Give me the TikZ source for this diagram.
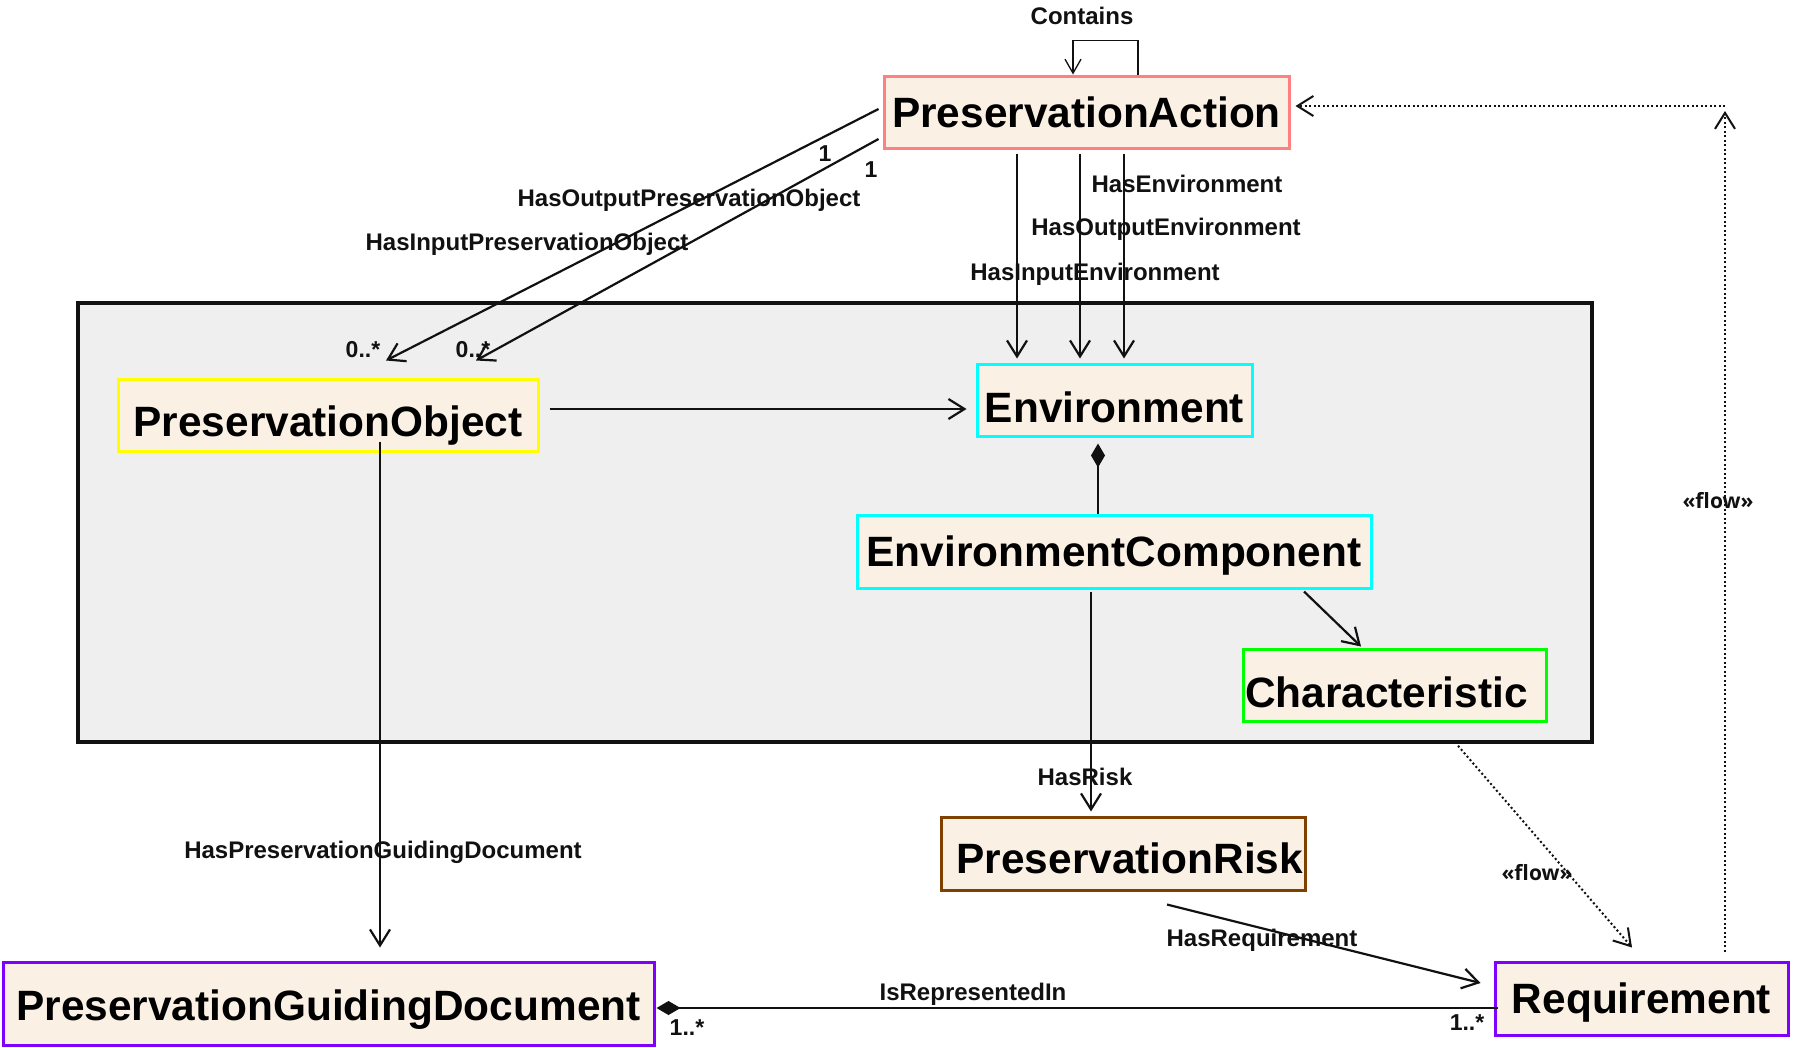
\documentclass[tikz,border=0pt]{standalone}
\usepackage{fontspec}
\setmainfont{Liberation Sans}
\newfontfamily\flowfont{Open Sans}
\usetikzlibrary{arrows.meta}
\definecolor{boxfill}{RGB}{251,240,228}
\definecolor{pkggray}{RGB}{239,239,239}
\definecolor{salmonred}{RGB}{255,128,128}
\definecolor{yel}{RGB}{255,255,0}
\definecolor{cyn}{RGB}{0,255,255}
\definecolor{grn}{RGB}{0,255,0}
\definecolor{brn}{RGB}{128,64,0}
\definecolor{vio}{RGB}{128,0,255}
\definecolor{ink}{RGB}{17,17,17}
\newcommand{\lowered}[2]{\raisebox{-#1pt}{#2}}
\begin{document}
\begin{tikzpicture}[x=1pt,y=-1pt,
  cls/.style={draw, line width=3pt, fill=boxfill, inner sep=0pt, text=black,
    text height=30.4pt, text depth=0pt,
    font=\bfseries\fontsize{42.4}{48}\selectfont},
  lbl/.style={font=\bfseries\fontsize{24}{28}\selectfont, inner sep=0pt, text=ink, yshift=-2.5pt},
  mult/.style={font=\bfseries\fontsize{23}{26}\selectfont, inner sep=0pt, text=ink},
  flowlbl/.style={font=\flowfont\bfseries\fontsize{21}{24}\selectfont, inner sep=0pt, text=ink},
  conn/.style={line width=2.2pt, draw=ink},
  openarr/.style={-{Straight Barb[length=16pt,width=20pt]}},
  flowline/.style={line width=2pt, draw=ink, dash pattern=on 2pt off 2.5pt}]
\useasboundingbox (0,0) rectangle (1801,1047);
\fill[white] (0,0) rectangle (1801,1047);

% package
\node[draw=ink, line width=3.5pt, fill=pkggray, minimum width=1514pt, minimum height=439pt, inner sep=0pt] (pkg) at (835,522.5) {};

% classes
\node[cls, draw=salmonred, minimum width=405pt, minimum height=72pt] (PA) at (1086.5,112) {PreservationAction};
\node[cls, draw=yel, minimum width=420pt, minimum height=72pt] (PO) at (328,415) {\lowered{6}{PreservationObject}};
\node[cls, draw=cyn, minimum width=275pt, minimum height=72pt] (Env) at (1114.5,400) {\lowered{7}{Environment}};
\node[cls, draw=cyn, minimum width=514pt, minimum height=73pt] (EC) at (1114,551.5) {EnvironmentComponent};
\node[cls, draw=grn, minimum height=72pt, text width=299pt, inner xsep=2pt, align=left] (Char) at (1394.5,685) {\lowered{7}{Characteristic}};
\node[cls, draw=brn, minimum height=73pt, text width=360pt, inner xsep=2pt, align=right] (Risk) at (1123,853.5) {\lowered{4.5}{PreservationRisk}};
\node[cls, draw=vio, minimum width=293pt, minimum height=73pt] (Req) at (1641.5,998.5) {Requirement};
\node[cls, draw=vio, minimum width=651pt, minimum height=83pt] (PGD) at (328.5,1003.5) {\lowered{1.5}{PreservationGuidingDocument}};

% Contains self loop
\draw[line width=1.3pt, draw=ink, -{Straight Barb[length=14pt,width=16pt]}]
  ([xshift=51.5pt]PA.north) -- ++(0,-34) -| ([xshift=-13.5pt]PA.north);
\node[lbl] (lContains) at (1082,13.5) {Contains};

% PA -> PO
\draw[conn, openarr] ([xshift=-4pt,yshift=3pt]PA.west) -- ([xshift=58pt,yshift=17pt]PO.north);
\draw[conn, openarr] ([xshift=-4pt,yshift=-27pt]PA.west) -- ([xshift=148pt,yshift=17pt]PO.north);
\node[lbl] (lOut) at (689,198) {HasOutputPreservationObject};
\node[lbl] (lIn) at (527,242) {HasInputPreservationObject};
\node[mult] (m1a) at (825,154) {1};
\node[mult] (m1b) at (871,170) {1};
\node[mult] (m0a) at (363,350) {0..*};
\node[mult] (m0b) at (473,350) {0..*};

% PA -> Environment
\draw[conn, openarr] ([xshift=-69.5pt,yshift=-4pt]PA.south) -- ([xshift=-97.5pt,yshift=4pt]Env.north);
\draw[conn, openarr] ([xshift=-6.5pt,yshift=-4pt]PA.south) -- ([xshift=-34.5pt,yshift=4pt]Env.north);
\draw[conn, openarr] ([xshift=37.5pt,yshift=-4pt]PA.south) -- ([xshift=9.5pt,yshift=4pt]Env.north);
\node[lbl] (lEnv) at (1187,181) {HasEnvironment};
\node[lbl] (lOutEnv) at (1166,227) {HasOutputEnvironment};
\node[lbl] (lInEnv) at (1095,272) {HasInputEnvironment};

% PO -> Environment
\draw[conn, openarr] ([xshift=10pt,yshift=6pt]PO.east) -- ([xshift=-9pt,yshift=-9pt]Env.west);

% Environment <>- EnvironmentComponent
\draw[conn, {Diamond[length=24pt,width=14pt]}-] ([xshift=-16.5pt,yshift=-6pt]Env.south) -- ([xshift=-16pt]EC.north);

% EC -> Characteristic
\draw[conn, openarr] ([xshift=190pt,yshift=-2pt]EC.south) -- ([xshift=-33.5pt,yshift=1pt]Char.north);

% EC -> Risk
\draw[conn, openarr] ([xshift=-23pt,yshift=-2pt]EC.south) -- ([xshift=-32pt,yshift=4pt]Risk.north);
\node[lbl] (lRisk) at (1085,774) {HasRisk};

% PO -> PGD
\draw[conn, openarr] ([xshift=52pt,yshift=11pt]PO.south) -- ([xshift=51.5pt,yshift=13pt]PGD.north);
\node[lbl] (lPGD) at (383,850) {HasPreservationGuidingDocument};

% PGD <>- Requirement
\draw[conn, {Diamond[length=24pt,width=14pt]}-] ([xshift=1pt,yshift=-4.5pt]PGD.east) -- ([xshift=4pt,yshift=-9.5pt]Req.west);
\node[lbl] (lRep) at (973,992) {IsRepresentedIn};
\node[mult] (mPGD) at (687,1028) {1..*};
\node[mult] (mReq) at (1467,1023) {1..*};

% Risk -> Requirement
\draw[conn, openarr] ([xshift=44pt,yshift=-13pt]Risk.south) -- ([xshift=-13pt,yshift=15.5pt]Req.west);
\node[lbl] (lReq) at (1262,938) {HasRequirement};

% flow: package -> Requirement
\draw[flowline, -{Straight Barb[length=16pt,width=20pt]}] ([xshift=623pt,yshift=-2pt]pkg.south) -- ([xshift=-9.5pt,yshift=13pt]Req.north);
\node[flowlbl] (lFlow1) at (1537,873) {«flow»};

% flow: Requirement -> PreservationAction
\coordinate (corner) at (1725,106);
\draw[flowline, -{Straight Barb[length=16pt,width=20pt]}] ([xshift=83.5pt,yshift=9pt]Req.north) -- ([yshift=-5pt]corner);
\draw[flowline, -{Straight Barb[length=16pt,width=20pt]}] (corner) -- ([xshift=5pt,yshift=6pt]PA.east);
\node[flowlbl] (lFlow2) at (1718,501) {«flow»};
\end{tikzpicture}
\end{document}
